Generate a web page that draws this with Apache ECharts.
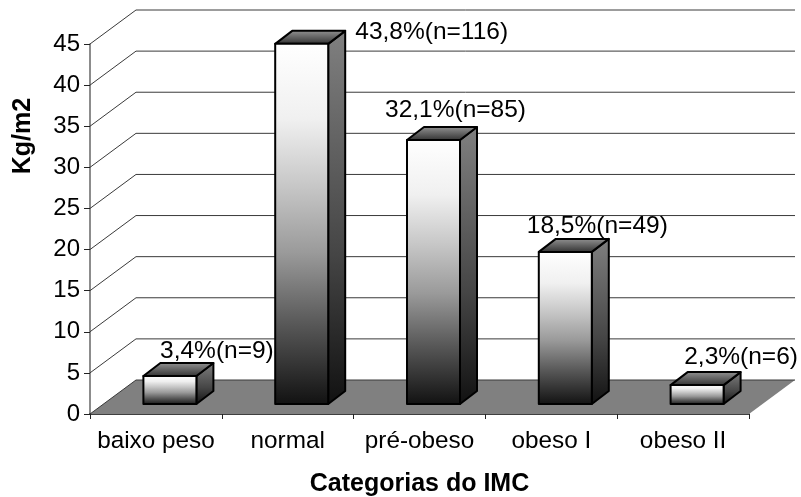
<!DOCTYPE html>
<html>
<head>
<meta charset="utf-8">
<style>html,body{margin:0;padding:0;background:#fff}#c{width:801px;height:497px}</style>
<script src="https://cdn.jsdelivr.net/npm/echarts@6/dist/echarts.min.js"></script>
</head>
<body>
<div id="c"></div>
<script>
const categories = ['baixo peso', 'normal', 'pré-obeso', 'obeso I', 'obeso II'];
const values = [3.4, 43.8, 32.1, 18.5, 2.3];
const pointLabels = ['3,4%(n=9)', '43,8%(n=116)', '32,1%(n=85)', '18,5%(n=49)', '2,3%(n=6)'];
const yTicks = [0, 5, 10, 15, 20, 25, 30, 35, 40, 45];

// chart layout (pixels), kept apart from the data
const wall = { dx: 46, dy: -34 };
const bar = { shiftX: 14, shiftY: -10, width: 53, dx: 17, dy: -13 };
const labelOffset = [[47, -25], [130, -12], [22, -30], [32, -26], [44, -28]];
const FONT = '"Liberation Sans", Arial, sans-serif';

const vGrad = (stops) => ({ type: 'linear', x: 0, y: 0, x2: 0, y2: 1,
  colorStops: stops.map(s => ({ offset: s[0], color: s[1] })) });
const frontFill = vGrad([[0, '#ffffff'], [0.21, '#f0f0f0'], [0.39, '#c8c8c8'], [0.58, '#9a9a9a'], [0.77, '#5a5a5a'], [1, '#111111']]);
const sideFill = vGrad([[0, '#808080'], [0.6, '#454545'], [1, '#111111']]);
const topFill = vGrad([[0, '#969696'], [1, '#2e2e2e']]);

const chart = echarts.init(document.getElementById('c'), null, { renderer: 'canvas' });

const bandWidth = (api) => api.size([1, 0])[0];

chart.setOption({
  animation: false,
  backgroundColor: '#fff',
  grid: { left: 90, right: 52, top: 44, bottom: 83, containLabel: false, outerBoundsMode: 'none' },
  xAxis: {
    type: 'category', data: categories, boundaryGap: true,
    axisLine: { show: true, lineStyle: { color: '#000', width: 1.5 } },
    axisTick: { show: true, alignWithLabel: false, length: 5, lineStyle: { color: '#222', width: 1 } },
    axisLabel: { color: '#000', fontFamily: FONT, fontSize: 24.3, margin: 15, interval: 0, hideOverlap: false },
    name: 'Categorias do IMC', nameLocation: 'middle', nameGap: 58,
    nameTextStyle: { color: '#000', fontFamily: FONT, fontSize: 25, fontWeight: 'bold' },
    splitLine: { show: false }
  },
  yAxis: {
    type: 'value', min: 0, max: 45, interval: 5,
    axisLine: { show: true, lineStyle: { color: '#666', width: 1.5 } },
    axisTick: { show: true, length: 6, lineStyle: { color: '#222', width: 1 } },
    axisLabel: { color: '#000', fontFamily: FONT, fontSize: 24, margin: 10 },
    name: 'Kg/m2', nameLocation: 'middle', nameGap: 54, nameRotate: 90,
    nameTextStyle: { color: '#000', fontFamily: FONT, fontSize: 25, fontWeight: 'bold', padding: [0, 0, 0, 186] },
    splitLine: { show: false }
  },
  series: [
    { // floor
      type: 'custom', coordinateSystem: 'cartesian2d', silent: true, z: 1,
      data: [[0, 0]], encode: { x: 0, y: 1 },
      renderItem(params, api) {
        const half = bandWidth(api) / 2;
        const a = api.coord([0, 0]), b = api.coord([categories.length - 1, 0]);
        const l = a[0] - half, r = b[0] + half, y = a[1];
        return { type: 'polygon', shape: { points: [[l, y], [r, y], [r + wall.dx, y + wall.dy], [l + wall.dx, y + wall.dy]] },
          style: { fill: '#808080', stroke: null } };
      }
    },
    { // wall gridlines
      type: 'custom', coordinateSystem: 'cartesian2d', silent: true, z: 2,
      data: yTicks.map(t => [0, t]), encode: { x: 0, y: 1 },
      renderItem(params, api) {
        const half = bandWidth(api) / 2;
        const v = api.value(1);
        const a = api.coord([0, v]), b = api.coord([categories.length - 1, 0]);
        const l = a[0] - half, r = b[0] + half, y = a[1];
        return { type: 'polyline',
          shape: { points: [[l, y], [l + wall.dx, y + wall.dy], [r + wall.dx, y + wall.dy]] },
          style: { fill: null, stroke: '#3a3a3a', lineWidth: 1 } };
      }
    },
    { // bars
      type: 'custom', coordinateSystem: 'cartesian2d', silent: true, z: 3, name: 'IMC',
      data: values.map((v, i) => [i, v]), encode: { x: 0, y: 1 },
      renderItem(params, api) {
        const base = api.coord([api.value(0), 0]);
        const top = api.coord([api.value(0), api.value(1)]);
        const x0 = base[0] + bar.shiftX - bar.width / 2, x1 = x0 + bar.width;
        const yb = base[1] + bar.shiftY, yt = top[1] + bar.shiftY;
        const stroke = { stroke: '#000', lineWidth: 2, lineJoin: 'round' };
        return { type: 'group', children: [
          { type: 'polygon', shape: { points: [[x1, yt], [x1 + bar.dx, yt + bar.dy], [x1 + bar.dx, yb + bar.dy], [x1, yb]] },
            style: Object.assign({ fill: sideFill }, stroke) },
          { type: 'polygon', shape: { points: [[x0, yt], [x0 + bar.dx, yt + bar.dy], [x1 + bar.dx, yt + bar.dy], [x1, yt]] },
            style: Object.assign({ fill: topFill }, stroke) },
          { type: 'polygon', shape: { points: [[x0, yt], [x1, yt], [x1, yb], [x0, yb]] },
            style: Object.assign({ fill: frontFill }, stroke) }
        ] };
      }
    },
    { // value labels
      type: 'custom', coordinateSystem: 'cartesian2d', silent: true, z: 4,
      data: values.map((v, i) => [i, v]), encode: { x: 0, y: 1 },
      renderItem(params, api) {
        const i = params.dataIndex;
        const top = api.coord([api.value(0), api.value(1)]);
        return { type: 'text',
          x: top[0] + bar.shiftX + labelOffset[i][0],
          y: top[1] + bar.shiftY + labelOffset[i][1],
          style: { text: pointLabels[i], fill: '#000', font: '24.5px ' + FONT, align: 'center', verticalAlign: 'middle' } };
      }
    }
  ]
});
</script>
</body>
</html>
